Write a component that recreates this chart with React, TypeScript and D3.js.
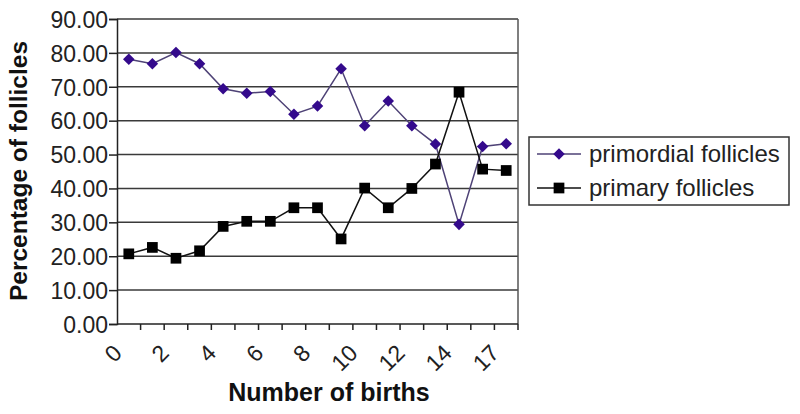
import { useEffect, useRef } from "react"
import * as d3 from "d3"

// categories on the x axis (16 is missing in the source)
const births = ["0", "1", "2", "3", "4", "5", "6", "7", "8", "9", "10", "11", "12", "13", "14", "15", "17"]
const primordial = [78.1, 76.8, 80.1, 76.8, 69.4, 68.1, 68.6, 61.9, 64.3, 75.3, 58.5, 65.8, 58.5, 53.1, 29.4, 52.4, 53.2]
const primary = [20.7, 22.6, 19.4, 21.6, 28.8, 30.3, 30.3, 34.3, 34.3, 25.1, 40.1, 34.3, 40.0, 47.2, 68.4, 45.7, 45.3]
const yTicks = [0, 10, 20, 30, 40, 50, 60, 70, 80, 90]
const seriesNames = ["primordial follicles", "primary follicles"]

const W = 800
const H = 414
const FONT = "'Liberation Sans', Arial, Helvetica, sans-serif"
const PURPLE = "#340a8c"
const PURPLE_LINE = "#4e4276"

export default function App() {
  const ref = useRef<SVGSVGElement>(null)

  useEffect(() => {
    if (!ref.current) return
    const svg = d3.select(ref.current)
    svg.selectAll("*").remove()

    const m = { left: 117, right: 518, top: 19, bottom: 324 }

    const x = d3.scaleBand().domain(births).range([m.left, m.right]).padding(0)
    const y = d3.scaleLinear().domain([0, 90]).range([m.bottom, m.top])
    const cx = (d: string) => (x(d) as number) + x.bandwidth() / 2

    svg.append("rect").attr("width", W).attr("height", H).attr("fill", "white")

    // grid lines
    svg.append("g")
      .selectAll("line")
      .data(yTicks.filter((t) => t > 0))
      .join("line")
      .attr("x1", m.left)
      .attr("x2", m.right)
      .attr("y1", (d) => y(d))
      .attr("y2", (d) => y(d))
      .attr("stroke", "#3a3a3a")
      .attr("stroke-width", 1.5)

    // right border
    svg.append("line")
      .attr("x1", m.right).attr("x2", m.right)
      .attr("y1", m.top).attr("y2", m.bottom)
      .attr("stroke", "#555").attr("stroke-width", 1.5)

    // y axis
    const yAxis = svg.append("g").attr("transform", `translate(${m.left},0)`)
      .call(d3.axisLeft(y).tickValues(yTicks).tickSize(8).tickFormat((d) => (d as number).toFixed(2)))
    yAxis.selectAll(".domain").attr("stroke", "#222").attr("stroke-width", 1.5)
    yAxis.selectAll(".tick line").attr("stroke", "#222").attr("stroke-width", 1.5)
    yAxis.selectAll("text")
      .attr("font-family", FONT).attr("font-size", 23).attr("fill", "#222")
      .attr("x", -9).attr("dy", "0.36em")

    // x axis
    const xAxis = svg.append("g").attr("transform", `translate(0,${m.bottom})`)
    xAxis.append("line").attr("x1", m.left).attr("x2", m.right).attr("stroke", "#222").attr("stroke-width", 1.5)
    xAxis.selectAll("line.tk")
      .data(births)
      .join("line")
      .attr("class", "tk")
      .attr("x1", (d) => (x(d) as number) + x.bandwidth())
      .attr("x2", (d) => (x(d) as number) + x.bandwidth())
      .attr("y1", 0).attr("y2", 6)
      .attr("stroke", "#222").attr("stroke-width", 1.5)
    xAxis.selectAll("text")
      .data(births.filter((_, i) => i % 2 === 0))
      .join("text")
      .attr("transform", (d) => `translate(${cx(d) - 17},${19}) rotate(-45)`)
      .attr("text-anchor", "end")
      .attr("dy", "0.7em")
      .attr("font-family", FONT).attr("font-size", 23).attr("fill", "#222")
      .text((d) => d)

    // titles
    svg.append("text")
      .attr("x", 329).attr("y", 401)
      .attr("text-anchor", "middle")
      .attr("font-family", FONT).attr("font-size", 25).attr("font-weight", "bold").attr("fill", "#111")
      .text("Number of births")
    svg.append("text")
      .attr("transform", `translate(27,171) rotate(-90)`)
      .attr("text-anchor", "middle")
      .attr("font-family", FONT).attr("font-size", 24.5).attr("font-weight", "bold").attr("fill", "#111")
      .text("Percentage of follicles")

    const line = d3.line<number>().x((_, i) => cx(births[i])).y((d) => y(d))
    const diamond = d3.symbol().type(d3.symbolDiamond2).size(85)
    const square = d3.symbol().type(d3.symbolSquare).size(115)

    // primordial
    svg.append("path").datum(primordial).attr("d", line)
      .attr("fill", "none").attr("stroke", PURPLE_LINE).attr("stroke-width", 1.5)
    // primary
    svg.append("path").datum(primary).attr("d", line)
      .attr("fill", "none").attr("stroke", "#111").attr("stroke-width", 1.5)

    svg.append("g").selectAll("path")
      .data(primordial)
      .join("path")
      .attr("transform", (d, i) => `translate(${cx(births[i])},${y(d)})`)
      .attr("d", diamond)
      .attr("fill", PURPLE)
    svg.append("g").selectAll("path")
      .data(primary)
      .join("path")
      .attr("transform", (d, i) => `translate(${cx(births[i])},${y(d)})`)
      .attr("d", square)
      .attr("fill", "#000")

    // legend
    const lg = svg.append("g")
    lg.append("rect")
      .attr("x", 529).attr("y", 137).attr("width", 260).attr("height", 68)
      .attr("fill", "white").attr("stroke", "#333").attr("stroke-width", 1.5)
    const rows = [
      { name: seriesNames[0], color: PURPLE, lineColor: PURPLE_LINE, sym: diamond, yy: 154 },
      { name: seriesNames[1], color: "#000", lineColor: "#111", sym: square, yy: 188 },
    ]
    rows.forEach((r) => {
      lg.append("line").attr("x1", 537).attr("x2", 581).attr("y1", r.yy).attr("y2", r.yy)
        .attr("stroke", r.lineColor).attr("stroke-width", 1.5)
      lg.append("path").attr("transform", `translate(559,${r.yy})`).attr("d", r.sym).attr("fill", r.color)
      lg.append("text").attr("x", 589).attr("y", r.yy).attr("dy", "0.35em")
        .attr("font-family", FONT).attr("font-size", 24).attr("fill", "#222")
        .text(r.name)
    })
  }, [])

  return (
    <div style={{ position: "fixed", left: 0, top: 0 }}>
      <svg ref={ref} width={W} height={H} style={{ display: "block" }} />
    </div>
  )
}
